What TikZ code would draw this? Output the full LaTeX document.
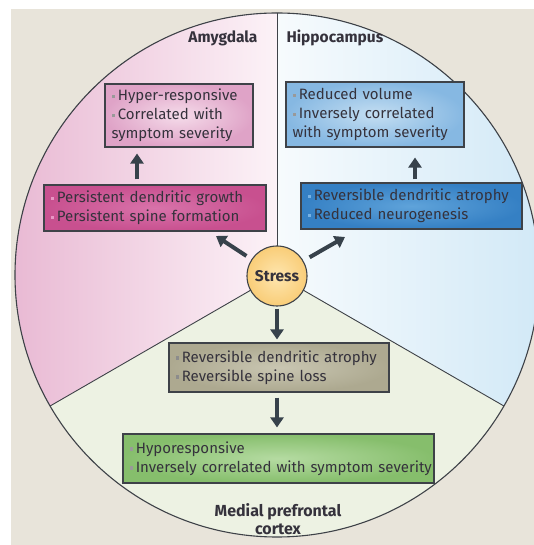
\documentclass[tikz,border=0pt]{standalone}
\usepackage{fontspec}
\setmainfont{Fira Sans}
\usetikzlibrary{arrows.meta,calc}
\definecolor{bg}{HTML}{E8E4DA}
\definecolor{edge}{HTML}{3E4248}
\definecolor{txt}{HTML}{35323C}
\definecolor{arrc}{HTML}{37424B}
\definecolor{amyL}{HTML}{E9BAD4}
\definecolor{amyR}{HTML}{FCF2F7}
\definecolor{hipL}{HTML}{F7FBFD}
\definecolor{hipR}{HTML}{D2E9F7}
\definecolor{pfcF}{HTML}{EDF2E3}
\newcommand{\bl}[1][black!45]{{\color{#1}\raisebox{0.32ex}{\rule{3.3pt}{3.3pt}}}\hspace{3pt}}
\newcommand{\li}[2][black!45]{\mbox{\bl[#1]#2}}
\begin{document}
\begin{tikzpicture}[x=1pt,y=1pt,
  box/.style={draw=edge, line width=1.1pt, align=left, inner xsep=6.5pt, inner ysep=0pt,
    font=\fontsize{15}{19}\selectfont, text=txt},
  arr/.style={draw=arrc, line width=4pt, -{Triangle[width=13pt,length=10pt]}},
  lab/.style={font=\fontsize{15.5}{18}\selectfont\bfseries, text=txt}]
\useasboundingbox (0,0) rectangle (534,545);
\clip (0,0) rectangle (534,545);
\fill[white] (0,0) rectangle (534,545);
\fill[bg] (11,0) rectangle (534,536);
\coordinate (C) at (277,270);
% sectors
\fill[left color=amyL, right color=amyR] (C) -- ++(90:262) arc[start angle=90,end angle=210,radius=262] -- cycle;
\fill[left color=hipL, right color=hipR] (C) -- ++(90:262) arc[start angle=90,end angle=-30,radius=262] -- cycle;
\fill[pfcF] (C) -- ++(210:262) arc[start angle=210,end angle=330,radius=262] -- cycle;
\draw[edge, line width=1.1pt] (C) circle[radius=262];
\draw[edge, line width=0.9pt] (C) -- ++(90:262);
\draw[edge, line width=0.9pt] (C) -- ++(210:262);
\draw[edge, line width=0.9pt] (C) -- ++(330:262);
% labels
\node[lab, anchor=east] (lamy) at (261,507) {Amygdala};
\node[lab, anchor=west] (lhip) at (283,507) {Hippocampus};
\node[lab, align=center, font=\fontsize{16}{18.5}\selectfont\bfseries] (lpfc) at (278,26) {Medial prefrontal\\cortex};
% stress
\node[circle, draw=edge, line width=1.1pt, inner color={rgb,255:red,254;green,230;blue,175}, outer color={rgb,255:red,249;green,205;blue,120}, minimum size=60pt, inner sep=0pt, font=\fontsize{15.5}{17}\selectfont\bfseries, text=txt] (stress) at (277,269) {Stress};
% boxes
\node[box, inner color={rgb,255:red,245;green,220;blue,234}, outer color={rgb,255:red,223;green,163;blue,199}, text width=135pt, minimum height=63pt] (a1) at (179,429.5)
  {\li[black!40]{Hyper-responsive}\\\li[black!40]{Correlated with}\\symptom severity};
\node[box, inner color={rgb,255:red,216;green,115;blue,170}, outer color={rgb,255:red,200;green,80;blue,143}, text width=209pt, minimum height=46pt] (a2) at (155,337)
  {\li[{rgb,255:red,232;green,150;blue,196}]{Persistent dendritic growth}\\\li[{rgb,255:red,232;green,150;blue,196}]{Persistent spine formation}};
\node[box, inner color={rgb,255:red,196;green,222;blue,242}, outer color={rgb,255:red,134;green,184;blue,226}, text width=165pt, minimum height=65pt] (h1) at (375,430.5)
  {\li[black!40]{Reduced volume}\\\li[black!40]{Inversely correlated}\\\mbox{with symptom severity}};
\node[box, inner color={rgb,255:red,95;green,163;blue,218}, outer color={rgb,255:red,53;green,128;blue,196}, text width=208pt, minimum height=46pt] (h2) at (411.5,339)
  {\li[{rgb,255:red,120;green,178;blue,228}]{Reversible dendritic atrophy}\\\li[{rgb,255:red,120;green,178;blue,228}]{Reduced neurogenesis}};
\node[box, inner color={rgb,255:red,201;green,198;blue,178}, outer color={rgb,255:red,173;green,169;blue,144}, text width=207pt, minimum height=49pt] (p1) at (279,177.5)
  {\li{Reversible dendritic atrophy}\\\li{Reversible spine loss}};
\node[box, inner color={rgb,255:red,181;green,219;blue,162}, outer color={rgb,255:red,134;green,190;blue,108}, text width=298pt, minimum height=49pt] (p2) at (278.5,86.5)
  {\li[black!40]{Hyporesponsive}\\\li[black!40]{Inversely correlated with symptom severity}};
% arrows
\coordinate (xa) at (137,0);
\coordinate (xh) at (415,0);
\coordinate (tA) at (216,309);
\coordinate (tH) at (345,308);
\draw[arr, shorten <=5pt, shorten >=6pt] (a2.north -| xa) -- (a1.south -| xa);
\draw[arr, shorten <=3pt, shorten >=10pt] (h2.north -| xh) -- (h1.south -| xh);
\draw[arr, shorten <=6pt] (stress) -- (tA);
\draw[arr, shorten <=7pt] (stress) -- (tH);
\draw[arr, shorten <=2pt, shorten >=3pt] (stress.south) -- (stress.south |- p1.north);
\draw[arr, shorten <=5pt, shorten >=6pt] (p1.south -| stress) -- (p2.north -| stress);
\end{tikzpicture}
\end{document}
